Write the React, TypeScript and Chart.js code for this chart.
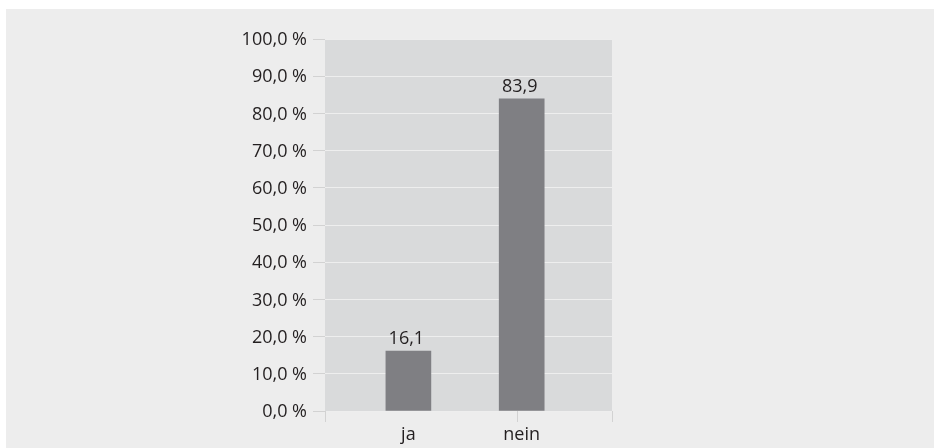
import React, { useEffect, useRef } from 'react';
import { Chart, registerables } from 'chart.js';

Chart.register(...registerables);

const categories = ['ja', 'nein'];
const values = [16.1, 83.9];
const yMin = 0;
const yMax = 100;
const yStep = 10;

const fmt = (v: number) => v.toFixed(1).replace('.', ',');

export default function App() {
  const ref = useRef<HTMLCanvasElement>(null);

  useEffect(() => {
    if (!ref.current) return;
    const FONT = '"Open Sans", sans-serif';
    const TEXT = '#231f20';

    const xMin = -0.736;
    const xMax = 1.797;
    const xMid = 0.956;

    const plotBg = {
      id: 'plotBg',
      beforeDraw(chart: any) {
        const { ctx, chartArea } = chart;
        ctx.save();
        ctx.fillStyle = '#d9dadb';
        ctx.fillRect(chartArea.left, chartArea.top, chartArea.right - chartArea.left, chartArea.bottom - chartArea.top);
        ctx.restore();
      },
    };

    const xMarks = {
      id: 'xMarks',
      afterDraw(chart: any) {
        const { ctx, chartArea } = chart;
        const sx = chart.scales.x;
        ctx.save();
        ctx.strokeStyle = '#d2d2d2';
        ctx.lineWidth = 1;
        [xMin, xMid, xMax].forEach((v) => {
          const px = Math.round(sx.getPixelForValue(v)) + 0.5;
          ctx.beginPath();
          ctx.moveTo(px, chartArea.bottom);
          ctx.lineTo(px, chartArea.bottom + 11);
          ctx.stroke();
        });
        ctx.restore();
      },
    };

    const valueLabels = {
      id: 'valueLabels',
      afterDatasetsDraw(chart: any) {
        const { ctx } = chart;
        const meta = chart.getDatasetMeta(0);
        ctx.save();
        ctx.font = `18px ${FONT}`;
        ctx.fillStyle = TEXT;
        ctx.textAlign = 'center';
        ctx.textBaseline = 'bottom';
        meta.data.forEach((bar: any, i: number) => {
          ctx.fillText(fmt(values[i]), bar.x - 2, bar.y - 3);
        });
        ctx.restore();
      },
    };

    const chart = new Chart(ref.current, {
      type: 'bar',
      data: {
        datasets: [
          {
            data: categories.map((c, i) => ({ x: i, y: values[i] })),
            backgroundColor: '#7f7f83',
            barThickness: 45,
          },
        ],
      },
      options: {
        animation: false,
        responsive: false,
        layout: { padding: { left: 0, right: 322, top: 30, bottom: 0 } },
        plugins: { legend: { display: false }, tooltip: { enabled: false } },
        scales: {
          x: {
            type: 'linear',
            min: xMin,
            max: xMax,
            offset: false,
            afterBuildTicks: (scale: any) => {
              scale.ticks = [0, 1].map((v) => ({ value: v }));
            },
            afterFit: (scale: any) => {
              scale.height = 37;
            },
            border: { display: false },
            grid: {
              offset: false,
              drawOnChartArea: false,
              tickLength: 11,
              tickColor: 'rgba(0,0,0,0)',
            },
            ticks: {
              autoSkip: false,
              maxRotation: 0,
              padding: 2,
              color: TEXT,
              font: { family: FONT, size: 18 },
              callback: (v: any) => {
                const n = Number(v);
                return Number.isInteger(n) && categories[n] !== undefined ? categories[n] : '';
              },
            },
          },
          y: {
            min: yMin,
            max: yMax,
            afterFit: (scale: any) => {
              scale.width = 319;
            },
            border: { display: false },
            grid: {
              color: '#eeeeee',
              tickColor: '#d2d2d2',
              tickLength: 12,
            },
            ticks: {
              stepSize: yStep,
              padding: 6,
              labelOffset: 1,
              color: TEXT,
              font: { family: FONT, size: 18 },
              callback: (v: any) => `${fmt(Number(v))} %`,
            },
          },
        },
      },
      plugins: [plotBg, valueLabels, xMarks],
    } as any);

    return () => chart.destroy();
  }, []);

  return (
    <div
      style={{
        position: 'absolute',
        left: 6,
        top: 9,
        width: 928,
        height: 439,
        background: '#ededed',
      }}
    >
      <canvas ref={ref} width={928} height={439} style={{ display: 'block' }} />
    </div>
  );
}
